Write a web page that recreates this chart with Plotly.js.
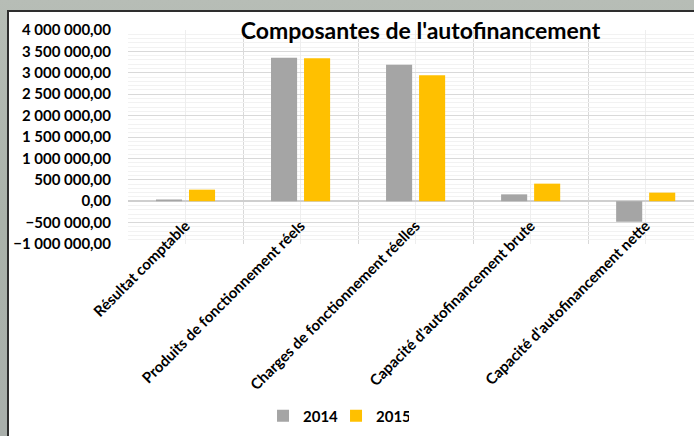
<!DOCTYPE html>
<html>
<head>
<meta charset="utf-8">
<script src="https://cdn.plot.ly/plotly-3.0.1.min.js"></script>
<style>
  html, body { margin: 0; padding: 0; width: 694px; height: 436px; overflow: hidden;
    background: linear-gradient(180deg, #b7bdb6 0%, #aab2aa 50%, #a9afab 100%); }
  #frame { position: absolute; left: 7px; top: 10px; width: 687px; height: 426px;
    border-left: 2px solid #2e2e2e; border-top: 2px solid #2e2e2e; background: #fff; }
  #chart { position: absolute; left: 0; top: 0; width: 685px; height: 424px; }
</style>
</head>
<body>
<div id="frame"><div id="chart"></div></div>
<script>
const categories = [
  "Résultat comptable",
  "Produits de fonctionnement réels",
  "Charges de fonctionnement réelles",
  "Capacité d'autofinancement brute",
  "Capacité d'autofinancement nette"
];
const series2014 = [40000, 3350000, 3190000, 160000, -480000];
const series2015 = [270000, 3340000, 2940000, 410000, 200000];
const seriesNames = ["2014", "2015"];
const titleText = "Composantes de l'autofinancement";

const idx = categories.map((_, i) => i);
const bold = { family: "Lato, 'Open Sans', sans-serif", size: 15, color: "#000", weight: 700 };

const traces = [
  { type: "bar", name: seriesNames[0], x: idx, y: series2014, marker: { color: "#a5a5a5" }, hoverinfo: "none" },
  { type: "bar", name: seriesNames[1], x: idx, y: series2015, marker: { color: "#ffc000" }, hoverinfo: "none" }
];

const layout = {
  width: 685, height: 424,
  margin: { l: 119, r: 0, t: 18, b: 192 },
  paper_bgcolor: "#ffffff", plot_bgcolor: "#ffffff",
  separators: ", ",
  barmode: "group", bargap: 0.426, bargroupgap: 0.21,
  font: bold,
  title: { text: titleText, font: { family: "Lato, 'Open Sans', sans-serif", size: 23, weight: 700, color: "#000" },
           xref: "container", yref: "container", x: 0.6007, y: 0.955, xanchor: "center", yanchor: "middle" },
  xaxis: {
    range: [-0.5, 4.42], tickmode: "array", tickvals: idx, showticklabels: false,
    showgrid: true, gridcolor: "#eeeeee", gridwidth: 1, zeroline: false, showline: false, ticks: "",
    minor: { tickmode: "linear", tick0: -0.5, dtick: 1, showgrid: true, gridcolor: "#d9d9d9", gridwidth: 1 }
  },
  xaxis2: {
    overlaying: "x", anchor: "free", position: 0.144, matches: "x",
    range: [-0.5, 4.42], tickmode: "array", tickvals: idx, ticktext: categories,
    tickangle: -45, showgrid: false, zeroline: false, showline: false, ticks: "",
    tickfont: bold
  },
  yaxis: {
    range: [-1000000, 4000000], tickmode: "linear", tick0: 0, dtick: 500000, tickformat: ",.2f",
    showgrid: true, gridcolor: "#d9d9d9", gridwidth: 1,
    zeroline: true, zerolinecolor: "#cfcfcf", zerolinewidth: 2, showline: false, ticks: "",
    ticklabelstandoff: 16, tickfont: bold,
    minor: { tickmode: "linear", tick0: 0, dtick: 100000, showgrid: true, gridcolor: "#f2f2f2", gridwidth: 1 }
  },
  showlegend: true,
  legend: { orientation: "h", xref: "container", yref: "container", x: 0.4774, y: 0.047,
            xanchor: "center", yanchor: "middle", font: bold, entrywidth: 28, entrywidthmode: "pixels",
            traceorder: "normal" }
};

traces.push({ type: "scatter", x: [0], y: [0], xaxis: "x2", mode: "none", showlegend: false, hoverinfo: "none" });

Plotly.newPlot("chart", traces, layout, { displayModeBar: false, staticPlot: true });
</script>
</body>
</html>
